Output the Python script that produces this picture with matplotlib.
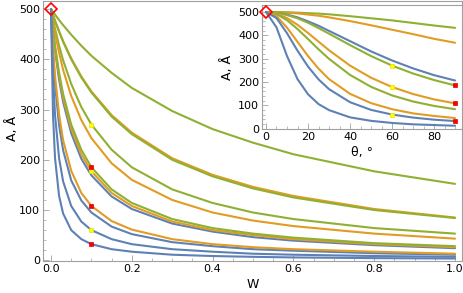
import matplotlib
matplotlib.use("Agg")
import matplotlib.pyplot as plt
from matplotlib.ticker import MultipleLocator, FormatStrFormatter

plt.rcParams['font.family'] = ['DejaVu Sans']
plt.rcParams['font.size'] = 8

BLUE = "#5E81B5"
ORANGE = "#E19C24"
GREEN = "#8FB032"
FRAME = "#A0A0A0"

# main plot: A(W)
w = [0, 0.005, 0.01, 0.02, 0.03, 0.05, 0.075, 0.1, 0.15, 0.2, 0.3, 0.4, 0.5, 0.6, 0.8, 1.0]
main_curves = [
    (GREEN,  [500, 494, 489, 478, 468, 449, 427, 407, 373, 343, 297, 261, 234, 211, 177, 152]),
    (ORANGE, [500, 488, 477, 456, 436, 402, 366, 336, 289, 254, 203, 170, 146, 128, 102, 85]),
    (GREEN,  [500, 488, 476, 455, 435, 400, 364, 334, 286, 251, 200, 167, 143, 125, 100, 84]),
    (GREEN,  [500, 480, 461, 427, 398, 351, 305, 270, 220, 185, 141, 114, 95, 82, 64, 53]),
    (ORANGE, [500, 475, 452, 413, 379, 327, 279, 243, 193, 160, 120, 95, 79, 68, 53, 43]),
    (BLUE,   [500, 455, 418, 359, 315, 253, 202, 169, 127, 102, 73, 57, 46, 39, 30, 24]),
    (ORANGE, [500, 458, 423, 367, 323, 262, 211, 177, 134, 108, 77, 60, 50, 42, 32, 26]),
    (GREEN,  [500, 461, 427, 373, 331, 270, 220, 185, 141, 114, 82, 64, 53, 45, 34, 28]),
    (BLUE,   [500, 412, 350, 269, 219, 159, 119, 95, 67, 52, 36, 28, 22, 19, 14, 11]),
    (ORANGE, [500, 423, 367, 290, 239, 178, 134, 108, 78, 61, 42, 32, 26, 22, 17, 13]),
    (BLUE,   [500, 366, 289, 203, 157, 108, 77, 60, 42, 32, 22, 17, 13, 11, 8.4, 6.8]),
    (BLUE,   [500, 289, 203, 128, 93, 60, 42, 32, 22, 17, 11, 8.4, 6.8, 5.6, 4.2, 3.4]),
]
main_yellow_w = [0.1, 0.1, 0.1]
main_yellow_a = [270, 177, 60]
main_red_w = [0.1, 0.1, 0.1]
main_red_a = [185, 108, 32]

# inset: A(theta)
theta = [0, 5, 10, 15, 20, 25, 30, 40, 50, 60, 70, 80, 90]
inset_curves = [
    (GREEN,  [500, 500, 499, 497, 495, 493, 490, 482, 473, 464, 453, 442, 432]),
    (ORANGE, [500, 499, 497, 494, 489, 484, 477, 461, 443, 424, 405, 385, 368]),
    (BLUE,   [500, 497, 489, 477, 460, 441, 419, 375, 331, 292, 258, 229, 206]),
    (GREEN,  [500, 497, 487, 473, 454, 431, 407, 358, 311, 270, 236, 208, 185]),
    (ORANGE, [500, 493, 474, 445, 410, 373, 336, 270, 218, 178, 148, 125, 108]),
    (GREEN,  [500, 491, 465, 427, 384, 340, 299, 230, 179, 142, 116, 97, 83]),
    (ORANGE, [500, 482, 433, 372, 311, 257, 212, 149, 109, 83, 65, 54, 45]),
    (BLUE,   [500, 474, 409, 334, 266, 211, 169, 113, 80, 60, 47, 38, 32]),
    (BLUE,   [500, 434, 311, 212, 147, 105, 79, 48, 33, 24, 18, 15, 12]),
]
inset_yellow_t = [60, 60, 60]
inset_yellow_a = [270, 178, 60]
inset_red_t = [90, 90, 90]
inset_red_a = [185, 108, 32]


def style_axes(ax):
    for s in ax.spines.values():
        s.set_color(FRAME)
        s.set_linewidth(0.8)
    ax.tick_params(which='both', direction='in', color=FRAME, top=False, right=False,
                   labelcolor='black', labelsize=8, pad=2)
    ax.tick_params(which='major', length=4, width=0.6)
    ax.tick_params(which='minor', length=2, width=0.5)


def draw(ax, xs, curves, yx, ya, rx, ry):
    for color, vals in curves:
        ax.plot(xs, vals, color=color, lw=1.5, solid_capstyle='round', zorder=2)
    ax.plot(yx, ya, ls='none', marker='s', ms=3.5, mfc='#FFFF00', mec='#E8E000', mew=0.5, zorder=4)
    ax.plot(rx, ry, ls='none', marker='s', ms=3.5, mfc='#FF0000', mec='#E00000', mew=0.5, zorder=4)
    ax.plot([xs[0]], [500], ls='none', marker='D', ms=6.5, mfc='none', mec='#FF0000', mew=1.2,
            zorder=5, clip_on=False)


fig = plt.figure(figsize=(4.63, 2.93), dpi=100)

ax = fig.add_axes([43 / 463, 1 - 261 / 293, 419 / 463, 260 / 293])
draw(ax, w, main_curves, main_yellow_w, main_yellow_a, main_red_w, main_red_a)
ax.set_xlim(-0.0198, 1.0173)
ax.set_ylim(-1.5, 516)
ax.xaxis.set_major_locator(MultipleLocator(0.2))
ax.xaxis.set_minor_locator(MultipleLocator(0.05))
ax.xaxis.set_major_formatter(FormatStrFormatter('%.1f'))
ax.yaxis.set_major_locator(MultipleLocator(100))
ax.yaxis.set_minor_locator(MultipleLocator(20))
style_axes(ax)
ax.set_xlabel('W', fontsize=9, labelpad=3)
ax.set_ylabel('A, Å', fontsize=9)
ax.yaxis.set_label_coords(-0.058, 0.51)

axi = fig.add_axes([262 / 463, 1 - 129 / 293, 200 / 463, 124 / 293])
draw(axi, theta, inset_curves, inset_yellow_t, inset_yellow_a, inset_red_t, inset_red_a)
axi.set_xlim(-1.9, 93.3)
axi.set_ylim(-2, 530)
axi.xaxis.set_major_locator(MultipleLocator(20))
axi.xaxis.set_minor_locator(MultipleLocator(5))
axi.yaxis.set_major_locator(MultipleLocator(100))
axi.yaxis.set_minor_locator(MultipleLocator(20))
style_axes(axi)
axi.set_xlabel('θ, °', fontsize=9, labelpad=3)
axi.set_ylabel('A, Å', fontsize=9, labelpad=3)

fig.savefig('out.png', dpi=100)
